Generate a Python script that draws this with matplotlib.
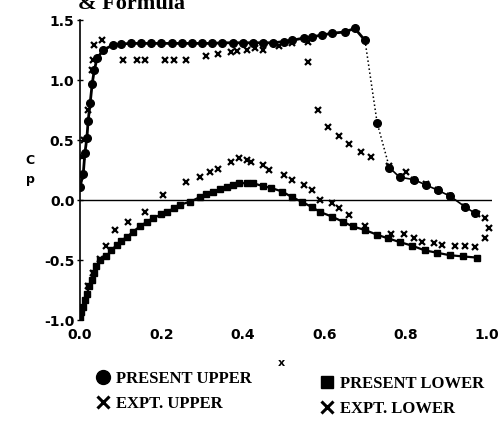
import matplotlib
matplotlib.use('Agg')
import matplotlib.pyplot as plt
from matplotlib.lines import Line2D

# present method, upper surface (circles)
pu_x = [0.0, 0.008, 0.012, 0.017, 0.02, 0.025, 0.03, 0.035, 0.042, 0.057, 0.08,
        0.10, 0.125, 0.15, 0.175, 0.2, 0.225, 0.25, 0.275, 0.3, 0.325, 0.35,
        0.375, 0.40, 0.425, 0.45, 0.475, 0.50, 0.52, 0.55, 0.57, 0.595, 0.62,
        0.65, 0.675, 0.70, 0.73, 0.76, 0.785, 0.82, 0.85, 0.88, 0.91, 0.945, 0.97]
pu_y = [0.11, 0.22, 0.39, 0.52, 0.66, 0.81, 0.97, 1.08, 1.18, 1.25, 1.29,
        1.30, 1.305, 1.305, 1.305, 1.305, 1.305, 1.305, 1.305, 1.305, 1.305, 1.31,
        1.31, 1.31, 1.31, 1.31, 1.31, 1.32, 1.33, 1.35, 1.36, 1.375, 1.39,
        1.40, 1.43, 1.33, 0.64, 0.27, 0.19, 0.17, 0.125, 0.08, 0.03, -0.055, -0.11]

# experiment, upper surface
eu_x = [0.003, 0.006, 0.01, 0.02, 0.03, 0.032, 0.035, 0.053, 0.105, 0.14, 0.16,
        0.21, 0.23, 0.26, 0.31, 0.34, 0.37, 0.385, 0.41, 0.43, 0.45, 0.49, 0.52,
        0.56, 0.56, 0.585, 0.61, 0.635, 0.66, 0.69, 0.715, 0.76, 0.80, 0.82,
        0.85, 0.88, 0.91, 0.945, 0.975, 0.995]
eu_y = [0.2, 0.36, 0.5, 0.75, 1.08, 1.17, 1.29, 1.33, 1.17, 1.17, 1.17,
        1.17, 1.17, 1.17, 1.2, 1.22, 1.23, 1.24, 1.25, 1.27, 1.25, 1.28, 1.31,
        1.32, 1.15, 0.75, 0.61, 0.53, 0.47, 0.40, 0.36, 0.28, 0.235, 0.17,
        0.13, 0.08, 0.03, -0.06, -0.12, -0.15]

# present method, lower surface (squares)
pl_x = [0.0, 0.003, 0.008, 0.012, 0.017, 0.023, 0.03, 0.035, 0.04, 0.05, 0.065,
        0.077, 0.09, 0.1, 0.115, 0.13, 0.147, 0.165, 0.18, 0.2, 0.213, 0.23,
        0.245, 0.27, 0.295, 0.31, 0.327, 0.345, 0.36, 0.375, 0.39, 0.41, 0.425,
        0.45, 0.47, 0.497, 0.52, 0.545, 0.57, 0.59, 0.62, 0.645, 0.67, 0.70,
        0.73, 0.757, 0.785, 0.815, 0.847, 0.878, 0.908, 0.94, 0.975]
pl_y = [-0.98, -0.93, -0.89, -0.83, -0.78, -0.72, -0.67, -0.61, -0.55, -0.50, -0.47,
        -0.42, -0.375, -0.34, -0.31, -0.265, -0.22, -0.18, -0.15, -0.12, -0.10, -0.07,
        -0.04, -0.015, 0.025, 0.05, 0.07, 0.09, 0.11, 0.125, 0.14, 0.14, 0.14,
        0.115, 0.10, 0.07, 0.025, -0.015, -0.06, -0.10, -0.14, -0.18, -0.22, -0.25,
        -0.29, -0.32, -0.35, -0.38, -0.42, -0.44, -0.46, -0.47, -0.48]

# experiment, lower surface
el_x = [0.02, 0.033, 0.05, 0.065, 0.086, 0.118, 0.16, 0.205, 0.26, 0.295, 0.32,
        0.34, 0.37, 0.39, 0.41, 0.42, 0.45, 0.465, 0.50, 0.52, 0.55, 0.57, 0.59,
        0.62, 0.635, 0.66, 0.70, 0.765, 0.795, 0.82, 0.84, 0.87, 0.89, 0.92,
        0.945, 0.97, 0.995, 1.005]
el_y = [-0.72, -0.61, -0.49, -0.38, -0.25, -0.18, -0.10, 0.04, 0.15, 0.19, 0.23,
        0.26, 0.32, 0.35, 0.33, 0.32, 0.29, 0.25, 0.21, 0.17, 0.125, 0.08, 0.0,
        -0.025, -0.07, -0.125, -0.22, -0.28, -0.28, -0.32, -0.35, -0.36, -0.375, -0.38,
        -0.38, -0.39, -0.32, -0.23]

xticks = [0.0, 0.2, 0.4, 0.6, 0.8, 1.0]
yticks = [-1.0, -0.5, 0.0, 0.5, 1.0, 1.5]

fig = plt.figure(figsize=(5.03, 4.24), dpi=100)
ax = fig.add_axes([80 / 503, 104 / 424, 412 / 503, 300 / 424])

ax.axhline(0, color='k', lw=1.0, zorder=1)

# upper surface line: solid, dotted through the shock
i_shock = pu_x.index(0.70)
j_shock = pu_x.index(0.76)
ax.plot(pu_x[:i_shock + 1], pu_y[:i_shock + 1], '-', color='k', lw=2.0)
ax.plot(pu_x[i_shock:j_shock + 1], pu_y[i_shock:j_shock + 1], ':', color='k', lw=1.1)
ax.plot(pu_x[j_shock:], pu_y[j_shock:], '-', color='k', lw=1.2)
ax.plot(pu_x, pu_y, 'o', ls='none', color='k', ms=5.5)

ax.plot(pl_x, pl_y, 's-', color='k', ms=4.5, lw=1.6)
ax.plot(eu_x, eu_y, 'x', ls='none', color='k', ms=5, mew=1.6)
ax.plot(el_x, el_y, 'x', ls='none', color='k', ms=5, mew=1.6)

ax.set_xlim(0, 1.012)
ax.set_ylim(-1.0, 1.5)
ax.set_xticks(xticks)
ax.set_yticks(yticks)
ax.set_xticklabels(['%.1f' % v for v in xticks], fontsize=10, fontweight='bold')
ax.set_yticklabels(['%.1f' % v for v in yticks], fontsize=10, fontweight='bold')
ax.tick_params(axis='x', length=0, pad=6)
ax.tick_params(axis='y', direction='inout', length=4, width=1, pad=2)

for s in ['top', 'right', 'bottom']:
    ax.spines[s].set_visible(False)
ax.spines['left'].set_linewidth(1.2)

ax.set_xlabel('x', fontsize=8, fontweight='bold')
ax.xaxis.set_label_coords(0.49, -0.127)
ax.set_ylabel('C\np', rotation=0, fontsize=9, fontweight='bold',
              linespacing=1.5, va='center', ha='center')
ax.yaxis.set_label_coords(-0.121, 0.5)

fig.text(78 / 503, 1 - 9 / 424, '& Formula', va='baseline', ha='left',
         family='Liberation Serif', fontweight='bold', fontsize=16)

leg_font = {'family': 'Liberation Serif', 'weight': 'bold', 'size': 12}
h_pu = Line2D([], [], marker='o', ls='none', color='k', ms=10)
h_eu = Line2D([], [], marker='x', ls='none', color='k', ms=8, mew=2.2)
h_pl = Line2D([], [], marker='s', ls='none', color='k', ms=9)
h_el = Line2D([], [], marker='x', ls='none', color='k', ms=8, mew=2.2)

leg1 = fig.legend([h_pu, h_eu], ['PRESENT UPPER', 'EXPT. UPPER'], loc='upper left',
                  bbox_to_anchor=(96 / 503, 1 - 371 / 424), frameon=False, prop=leg_font,
                  handlelength=0.8, handletextpad=0.4, labelspacing=0.55,
                  borderpad=0, borderaxespad=0)
leg2 = fig.legend([h_pl, h_el], ['PRESENT LOWER', 'EXPT. LOWER'], loc='upper left',
                  bbox_to_anchor=(320 / 503, 1 - 376 / 424), frameon=False, prop=leg_font,
                  handlelength=0.8, handletextpad=0.4, labelspacing=0.55,
                  borderpad=0, borderaxespad=0)

fig.savefig('out.png', dpi=100)
